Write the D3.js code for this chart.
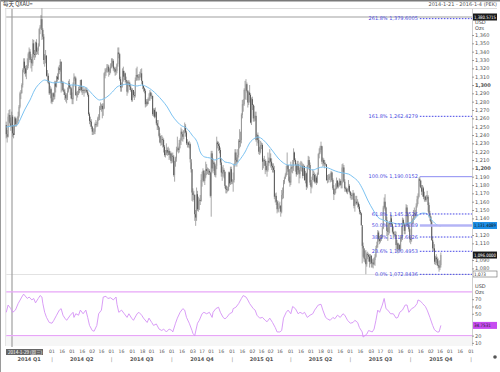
<!DOCTYPE html>
<html>
<head>
<meta charset="utf-8">
<script src="https://cdn.jsdelivr.net/npm/d3@7"></script>
<style>
body { margin: 0; background: #fff; }
text { font-family: "DejaVu Sans", sans-serif; }
</style>
</head>
<body>
<svg id="chart" width="500" height="372"></svg>
<script>
// daily bars, one per weekday from the first day
var firstDay = "2014-01-21", lastDay = "2016-01-04";
var firstOpen = 1252;
var closes = [
  // 2014 Jan
  1241,1238,1262,1264,1254,1251,1262,1242,1240,
  // Feb
  1260,1253,1257,1257,1263,1274,1290,1290,1300,1318,1328,1320,1314,1320,1323,1337,1340,1330,1331,1326,
  // Mar
  1350,1337,1336,1351,1340,1341,1347,1367,1370,1379,1366,1358,1330,1331,1335,1311,1311,1303,1290,1295,1284,
  // Apr
  1280,1290,1286,1303,1298,1310,1307,1320,1318,1328,1302,1303,1294,1292,1288,1284,1285,1293,1302,1297,1296,1284,
  // May
  1283,1300,1309,1308,1288,1288,1290,1295,1294,1306,1294,1293,1294,1293,1294,1294,1292,1288,1265,1257,1256,1250,
  // Jun
  1244,1244,1244,1253,1252,1253,1260,1261,1273,1274,1275,1271,1272,1314,1316,1318,1321,1322,1316,1316,1322,
  // Jul
  1326,1329,1320,1319,1316,1317,1325,1339,1337,1307,1297,1300,1317,1310,1314,1306,1304,1292,1303,1302,1298,1294,1282,
  // Aug
  1294,1288,1287,1306,1312,1310,1309,1309,1313,1314,1305,1299,1296,1293,1277,1280,1277,1283,1283,1291,1287,
  // Sep
  1287,1265,1270,1262,1268,1254,1251,1249,1239,1231,1235,1235,1234,1226,1216,1218,1222,1219,1221,1216,1218,1209,
  // Oct
  1215,1214,1192,1207,1212,1223,1224,1222,1230,1234,1244,1241,1238,1245,1250,1243,1230,1231,1228,1229,1211,1199,1171,
  // Nov
  1168,1168,1145,1141,1169,1151,1161,1162,1161,1186,1188,1197,1185,1190,1199,1197,1197,1197,1195,1167,
  // Dec
  1218,1200,1207,1205,1192,1203,1231,1229,1227,1222,1207,1195,1194,1198,1196,1179,1175,1174,1174,1195,1182,1199,1184,
  // 2015 Jan
  1184,1186,1204,1219,1210,1208,1216,1233,1232,1234,1264,1277,1277,1294,1294,1301,1293,1279,1291,1288,1255,1283,
  // Feb
  1276,1260,1263,1263,1234,1240,1234,1220,1220,1228,1228,1208,1210,1209,1203,1198,1198,1209,1207,1212,
  // Mar
  1208,1203,1201,1198,1166,1167,1160,1151,1152,1152,1155,1148,1168,1170,1183,1188,1192,1196,1204,1199,1185,1183,
  // Apr
  1201,1200,1202,1219,1210,1204,1193,1205,1198,1193,1200,1203,1203,1191,1203,1186,1194,1178,1203,1210,1204,1183,
  // May
  1178,1186,1193,1192,1184,1189,1183,1193,1217,1219,1225,1227,1208,1210,1206,1205,1205,1186,1187,1188,1190,
  // Jun
  1190,1195,1186,1176,1169,1174,1176,1185,1178,1180,1185,1180,1182,1201,1201,1184,1176,1175,1172,1174,1179,1172,
  // Jul
  1168,1167,1168,1170,1155,1159,1160,1158,1158,1154,1148,1146,1132,1107,1104,1092,1091,1085,1097,1096,1094,1088,1095,
  // Aug
  1086,1087,1085,1090,1094,1104,1108,1123,1115,1113,1118,1117,1128,1153,1160,1153,1138,1125,1124,1134,1133,
  // Sep
  1140,1133,1124,1121,1121,1120,1108,1110,1103,1108,1103,1118,1117,1138,1133,1125,1131,1153,1145,1132,1127,1115,
  // Oct
  1114,1137,1137,1146,1145,1143,1155,1163,1166,1187,1185,1177,1172,1176,1166,1166,1162,1164,1166,1156,1146,1142,
  // Nov
  1136,1114,1104,1104,1088,1093,1091,1084,1083,1081,1084,1096
];
var highs = [
  1256,1246,1266,1270,1271,1261,1268,1264,1252,
  1262,1262,1260,1262,1268,1276,1292,1294,1302,1320,1332,1332,1323,1324,1332,1339,1345,1343,1337,1334,
  1355,1354,1342,1352,1355,1345,1350,1368,1372,1384,1392,1368,1361,1337,1342,1336,1318,1314,1305,1299,1297,
  1290,1291,1291,1305,1305,1311,1314,1322,1324,1331,1328,1305,1305,1296,1295,1290,1290,1297,1305,1307,1300,1298,
  1291,1303,1314,1311,1310,1292,1293,1298,1299,1306,1307,1298,1298,1295,1297,1296,1297,1294,1290,1267,1262,1259,
  1251,1248,1248,1255,1258,1256,1262,1265,1275,1279,1277,1278,1278,1315,1320,1320,1325,1325,1324,1320,1326,
  1332,1332,1331,1322,1321,1322,1326,1345,1345,1338,1310,1303,1320,1322,1317,1315,1310,1306,1305,1306,1304,1301,1296,
  1296,1294,1292,1309,1320,1322,1313,1313,1316,1319,1320,1303,1300,1297,1295,1283,1283,1285,1290,1294,1292,
  1290,1287,1272,1272,1273,1267,1258,1258,1250,1242,1239,1240,1238,1236,1228,1222,1230,1225,1226,1224,1221,1220,
  1218,1219,1216,1209,1214,1226,1238,1226,1234,1236,1249,1247,1241,1246,1255,1253,1245,1235,1232,1233,1231,1207,1199,
  1176,1173,1169,1150,1177,1173,1166,1164,1168,1193,1196,1200,1198,1194,1208,1205,1201,1200,1199,1196,
  1221,1221,1212,1209,1207,1203,1238,1233,1232,1230,1225,1212,1202,1204,1200,1196,1180,1179,1178,1196,1196,1202,1202,
  1187,1195,1206,1223,1223,1213,1223,1235,1247,1244,1266,1282,1283,1296,1305,1307,1303,1294,1292,1300,1290,1285,
  1286,1277,1275,1268,1268,1241,1243,1238,1226,1233,1231,1230,1212,1215,1211,1209,1206,1219,1213,1223,
  1218,1212,1206,1206,1203,1170,1171,1162,1161,1158,1160,1156,1174,1177,1186,1190,1194,1203,1219,1204,1199,1190,
  1208,1204,1210,1224,1220,1212,1206,1209,1209,1201,1207,1209,1208,1206,1205,1203,1197,1195,1204,1215,1214,1207,
  1186,1190,1199,1197,1195,1193,1191,1195,1218,1224,1227,1232,1226,1213,1212,1210,1207,1204,1192,1193,1193,
  1194,1197,1196,1188,1180,1175,1182,1189,1186,1183,1188,1187,1185,1205,1206,1204,1187,1178,1177,1176,1186,1181,
  1173,1171,1170,1174,1171,1163,1167,1167,1163,1160,1157,1150,1147,1130,1111,1104,1101,1102,1099,1100,1098,1097,1097,
  1096,1091,1092,1093,1097,1107,1112,1126,1125,1119,1120,1121,1130,1155,1165,1169,1154,1142,1129,1135,1137,
  1146,1143,1135,1130,1124,1125,1124,1114,1111,1110,1109,1120,1130,1141,1140,1135,1134,1157,1156,1147,1135,1129,
  1118,1143,1140,1150,1153,1150,1158,1167,1170,1189,1190,1186,1180,1180,1178,1172,1167,1168,1173,1168,1159,1149,
  1143,1138,1118,1112,1109,1095,1097,1094,1092,1089,1090,1099
];
var lows = [
  1236,1231,1237,1256,1250,1245,1249,1238,1236,
  1240,1250,1250,1252,1254,1261,1272,1283,1290,1297,1315,1313,1310,1307,1318,1320,1332,1327,1320,1316,
  1323,1333,1330,1333,1336,1337,1336,1346,1361,1368,1354,1355,1325,1322,1326,1310,1303,1301,1288,1290,1278,
  1277,1280,1282,1283,1291,1297,1304,1306,1313,1316,1291,1293,1292,1288,1282,1280,1278,1282,1291,1295,1288,1283,
  1277,1277,1298,1305,1287,1281,1285,1288,1290,1293,1291,1288,1290,1286,1290,1291,1290,1286,1263,1253,1250,1247,
  1240,1240,1241,1241,1249,1250,1250,1257,1258,1270,1268,1260,1263,1271,1308,1311,1315,1315,1310,1312,1314,
  1320,1322,1317,1315,1311,1312,1314,1322,1332,1305,1292,1292,1297,1304,1306,1303,1300,1287,1290,1299,1294,1292,1280,
  1280,1285,1282,1285,1305,1305,1306,1305,1306,1309,1301,1295,1292,1290,1273,1274,1275,1277,1281,1281,1285,
  1283,1263,1262,1260,1261,1252,1246,1246,1237,1230,1227,1228,1225,1219,1214,1213,1216,1215,1216,1210,1212,1206,
  1206,1207,1190,1184,1202,1208,1220,1218,1219,1224,1228,1233,1232,1235,1242,1238,1228,1225,1225,1224,1207,1195,1161,
  1160,1162,1137,1131,1137,1149,1148,1150,1156,1160,1178,1184,1183,1180,1188,1192,1193,1192,1192,1165,
  1142,1196,1194,1197,1190,1189,1199,1224,1221,1218,1204,1190,1185,1190,1188,1176,1170,1170,1172,1173,1178,1180,1181,
  1181,1172,1183,1202,1206,1202,1207,1213,1224,1226,1230,1260,1268,1275,1283,1282,1291,1273,1276,1279,1254,1252,
  1270,1256,1256,1257,1232,1227,1230,1217,1216,1218,1223,1198,1200,1203,1193,1196,1190,1196,1203,1206,
  1201,1198,1195,1195,1163,1159,1156,1146,1148,1147,1152,1142,1146,1163,1164,1181,1187,1190,1192,1196,1183,1178,
  1180,1195,1194,1197,1208,1196,1190,1192,1195,1182,1188,1197,1196,1188,1191,1185,1182,1174,1176,1200,1198,1180,
  1170,1176,1186,1184,1182,1182,1180,1182,1192,1212,1217,1222,1205,1202,1203,1200,1203,1185,1182,1183,1186,
  1183,1184,1184,1174,1162,1168,1170,1175,1176,1176,1178,1179,1176,1176,1196,1183,1172,1172,1170,1169,1172,1170,
  1164,1162,1163,1162,1152,1148,1157,1156,1153,1151,1145,1144,1131,1086,1094,1088,1087,1073,1082,1091,1088,1081,1085,
  1081,1081,1080,1084,1083,1093,1104,1105,1112,1109,1111,1113,1116,1127,1151,1149,1136,1119,1113,1120,1122,
  1131,1131,1122,1116,1118,1116,1103,1100,1098,1102,1100,1101,1112,1114,1131,1121,1121,1131,1142,1130,1124,1111,
  1109,1112,1133,1134,1138,1140,1142,1153,1157,1165,1178,1176,1168,1166,1163,1160,1160,1160,1163,1148,1141,1137,
  1131,1113,1100,1101,1085,1084,1086,1083,1080,1076,1078,1081
];

// moving average, read at bar positions
var maBar = [0,6,12,15,20,26,31,37,42,48,53,59,64,70,75,81,86,92,97,102,106,110,116,121,127,132,137,143,148,154,
  159,165,170,176,181,187,192,195,199,203,209,212,217,223,228,234,239,245,250,255,261,266,272,275,281,286,292,297,303,
  308,313,319,324,330,335,341,346,352,357,363,368,374,379,385,390,395,401,406,412,417,423,428,434,439,443,447,452,456,
  460,465,471,475];
var maVal = [1249.6,1250.8,1252,1258,1270,1282,1294,1302.4,1306,1303.6,1302.4,1303.6,1302.4,1300,1300,1298.8,1297.6,
  1291.6,1285.6,1282,1283.2,1285.6,1291.6,1297.6,1300,1301.2,1300,1298.8,1300,1297.6,1294,1288,1282,1273.6,1264,1255.6,
  1250.8,1249.6,1246,1240,1230.4,1219.6,1213.6,1212.4,1210,1212.4,1207.6,1206.4,1204,1210,1219.6,1230.4,1236.4,1237.6,
  1234,1228,1219.6,1212.4,1206.4,1204,1204,1204,1201.6,1200.4,1198,1200.4,1201.6,1200.4,1198,1195.6,1194.4,1193.2,
  1189.6,1183.6,1174,1162,1150,1141.6,1138,1135.6,1134.4,1133.2,1133.2,1134.4,1135.6,1140.4,1145.2,1146.4,1145.2,1138,
  1132,1130.8];

// RSI, read at bar positions
var rsiBar = [0,2,5,7,10,13,17,19,23,25,28,30,32,35,37,39,40,42,44,47,50,52,55,58,60,62,64,66,70,73,74,76,79,81,84,87,
  89,91,94,96,99,101,104,106,109,111,114,117,120,121,123,126,129,132,134,137,139,143,145,148,150,154,156,159,161,164,
  167,170,172,175,178,181,182,185,187,190,193,195,197,200,203,204,206,209,211,214,216,219,222,225,226,229,232,234,237,
  239,241,244,247,248,251,254,257,259,262,264,266,270,272,274,277,280,283,285,288,291,294,296,299,301,303,306,308,311,
  313,316,319,321,324,326,329,332,335,337,341,344,346,349,351,354,357,359,362,365,368,370,373,376,379,381,384,386,389,
  390,392,394,396,400,402,404,406,408,411,413,415,417,420,423,426,428,430,433,436,438,440,443,446,449,450,453,455,458,
  460,463,466,468,471,473,475];
var rsiVal = [52,62,57,52,55,64,73,77,71,73,69,71,65,71,75,73,64,52,45,38,37,41,48,55,57,48,44,41,48,52,45,50,48,55,50,
  55,45,34,27,26,34,50,55,73,74,71,72,69,73,63,52,55,50,45,50,44,41,50,52,48,44,38,44,38,34,36,29,27,29,25,29,27,25,37,
  44,52,57,55,45,37,27,23,20,37,41,50,52,50,52,45,52,57,59,52,45,43,45,50,52,57,59,64,71,75,73,69,64,57,55,48,44,45,41,
  39,44,38,31,25,25,27,44,52,55,50,60,57,50,52,50,52,45,48,50,55,62,63,55,45,43,41,45,43,48,45,50,48,41,37,38,41,38,31,
  25,18,20,22,27,25,29,41,55,52,62,71,57,55,50,50,44,45,52,55,62,62,52,57,59,64,69,67,64,60,55,45,34,28,25,25,34];

var fibPct = ["261.8%", "161.8%", "100.0%", "61.8%", "50.0%", "38.2%", "23.6%", "0.0%"];
var fibVal = [1379.6005, 1262.4279, 1190.0152, 1145.2526, 1131.4089, 1117.6026, 1100.4953, 1072.8436];
var fibFrom = "2015-10-15";

var priceTicks = [1080,1090,1100,1110,1120,1130,1140,1150,1160,1170,1180,1190,1200,1210,1220,1230,1240,1250,
  1260,1270,1280,1290,1300,1310,1320,1330,1340,1350,1360];
var boldTicks = [1100, 1200, 1300];
var rsiTicks = [10, 20, 30, 40, 50, 60, 70];
var rsiBands = [80, 20];

var cursorPrice = "1,380.5715";
var cursorDate = "2014-1-29 (周三)";
var maLast = "1,131.4089";
var lastClose = "1,096.0000";
var lowLabel = "1,073";
var rsiLast = "34.7531";

var svg = d3.select("#chart");
var parse = d3.timeParse("%Y-%m-%d");
var days = d3.timeDay.range(parse(firstDay), d3.timeDay.offset(parse(lastDay), 1))
    .filter(function(d) { return d.getDay() % 6 != 0; });
var dayNums = days.map(Number);

var left = 6.25, right = 472;
var x = d3.scaleLinear().domain([0, days.length - 1]).range([left, right]);
var y = d3.scaleLinear().domain([1100, 1300]).range([251.7, 85]);
var yr = d3.scaleLinear().domain([20, 70]).range([335.6, 299.2]);

var bars = closes.map(function(c, i) {
  return {i: i, o: i ? closes[i - 1] : firstOpen, h: highs[i], l: lows[i], c: c};
});

// frame
svg.append("rect").attr("x", 0).attr("y", 0).attr("width", 500).attr("height", 372).attr("fill", "#fff");
svg.append("rect").attr("x", 0).attr("y", 0).attr("width", 500).attr("height", 1.5).attr("fill", "#7a7a7a");
svg.append("line").attr("x1", 0.5).attr("x2", 0.5).attr("y1", 0).attr("y2", 372).attr("stroke", "#9a9a9a");
svg.append("line").attr("x1", 5).attr("x2", 497).attr("y1", 8.5).attr("y2", 8.5).attr("stroke", "#dcdcdc");
svg.append("line").attr("x1", left - 0.5).attr("x2", left - 0.5).attr("y1", 8.5).attr("y2", 346).attr("stroke", "#dcdcdc");
svg.append("line").attr("x1", left).attr("x2", right).attr("y1", 274.5).attr("y2", 274.5).attr("stroke", "#e2e2e2");
svg.append("rect").attr("x", left).attr("y", 337).attr("width", right - left).attr("height", 9).attr("fill", "#f6f6f6");

svg.append("text").attr("x", 3).attr("y", 6.3)
    .style("font-family", "'Noto Sans CJK SC'").style("font-size", "5.5px").attr("fill", "#333")
    .text("每天 QXAU=");
svg.append("text").attr("x", 497).attr("y", 6.3).attr("text-anchor", "end")
    .style("font-size", "5px").attr("fill", "#555")
    .text("2014-1-21 - 2016-1-4 (PEK)");

// crosshair
svg.append("line").attr("x1", 12).attr("x2", 12).attr("y1", 9).attr("y2", 347).attr("stroke", "#a0a0a0").attr("stroke-width", 1.2);
svg.append("line").attr("x1", left).attr("x2", right).attr("y1", 17).attr("y2", 17).attr("stroke", "#a0a0a0").attr("stroke-width", 1.2);

// candles
var candles = svg.append("g");
candles.selectAll("line").data(bars).join("line")
    .attr("x1", function(d) { return x(d.i); })
    .attr("x2", function(d) { return x(d.i); })
    .attr("y1", function(d) { return y(d.h); })
    .attr("y2", function(d) { return y(d.l); })
    .attr("stroke", "#6e6e6e").attr("stroke-width", 0.6);
candles.selectAll("rect").data(bars).join("rect")
    .attr("x", function(d) { return x(d.i) - 0.45; })
    .attr("width", 0.9)
    .attr("y", function(d) { return y(Math.max(d.o, d.c)); })
    .attr("height", function(d) { return Math.max(0.6, Math.abs(y(d.o) - y(d.c))); })
    .attr("fill", function(d) { return d.c >= d.o ? "#969696" : "#505050"; });

// moving average
svg.append("path")
    .datum(maBar.map(function(b, i) { return [b, maVal[i]]; }))
    .attr("fill", "none").attr("stroke", "#7cc3f2").attr("stroke-width", 1)
    .attr("d", d3.line().curve(d3.curveMonotoneX)
      .x(function(d) { return x(d[0]); })
      .y(function(d) { return y(d[1]); }));

// fibonacci
var fibX = x(dayNums.indexOf(+parse(fibFrom)));
var fib = svg.append("g");
fibVal.forEach(function(v, i) {
  var solid = fibPct[i] == "100.0%" || fibPct[i] == "50.0%";
  fib.append("line")
      .attr("x1", fibX).attr("x2", right)
      .attr("y1", y(v)).attr("y2", y(v))
      .attr("stroke", fibPct[i] == "50.0%" ? "#b4b4f6" : (solid ? "#8c8cf2" : "#4646e6"))
      .attr("stroke-width", fibPct[i] == "50.0%" ? 2.6 : 1)
      .attr("stroke-dasharray", solid ? null : "1.6,1.4");
  fib.append("text")
      .attr("x", fibX - 2).attr("y", y(v) + 1.8)
      .attr("text-anchor", "end")
      .style("font-size", "5px").attr("fill", "#4a4ae0")
      .text(fibPct[i] + "  " + d3.format(",.4f")(v));
});

// value tags on the right axis
var tagYs = [];
function tag(yy, txt, bg, fg, stroke, h) {
  h = h || 7;
  tagYs.push(yy);
  svg.append("rect").attr("x", 473).attr("y", yy - h / 2).attr("width", 24).attr("height", h)
      .attr("fill", bg).attr("stroke", stroke || "none").attr("stroke-width", 0.6);
  svg.append("text").attr("x", 474).attr("y", yy + 1.7).style("font-size", "4.6px").attr("fill", fg)
      .attr("textLength", Math.min(22, txt.length * 2.4)).attr("lengthAdjust", "spacingAndGlyphs").text(txt);
}
function freeOfTags(py) {
  return tagYs.every(function(t) { return Math.abs(t - py) > 5; });
}

// price axis
tag(17, cursorPrice, "#1a1a1a", "#fff");
tag(y(1131.4089), maLast, "#1e8fe6", "#111");
tag(y(closes[closes.length - 1]), lastClose, "#1a1a1a", "#fff");
tag(274, lowLabel, "#fff", "#333", "#666", 6);
var axisG = svg.append("g").attr("transform", "translate(" + right + ",0)")
    .call(d3.axisRight(y).tickValues(priceTicks.filter(function(v) { return freeOfTags(y(v)); }))
      .tickSize(2).tickPadding(1).tickFormat(d3.format(",")));
axisG.select(".domain").attr("stroke", "#cfcfcf").attr("d", "M0.5,9V346");
axisG.selectAll(".tick line").attr("stroke", "#999");
axisG.selectAll(".tick text").style("font-size", "5px").attr("fill", "#555")
    .style("font-weight", function(d) { return boldTicks.indexOf(d) >= 0 ? "bold" : null; });

svg.append("text").attr("x", 475).attr("y", 24).style("font-size", "5px").attr("fill", "#444").text("USD");
svg.append("text").attr("x", 475).attr("y", 30).style("font-size", "5px").attr("fill", "#444").text("Ozs");

// RSI panel
rsiBands.forEach(function(b) {
  svg.append("line").attr("x1", left).attr("x2", right).attr("y1", yr(b)).attr("y2", yr(b))
      .attr("stroke", "#e7a6f7").attr("stroke-width", 1.4);
});
svg.append("path")
    .datum(rsiBar.map(function(b, i) { return [b, rsiVal[i]]; }))
    .attr("fill", "none").attr("stroke", "#d592f5").attr("stroke-width", 0.9)
    .attr("d", d3.line()
      .x(function(d) { return x(d[0]); })
      .y(function(d) { return yr(d[1]); }));

tag(yr(rsiVal[rsiVal.length - 1]), rsiLast, "#c64cf0", "#222");
var rsiAxis = svg.append("g").attr("transform", "translate(" + right + ",0)")
    .call(d3.axisRight(yr).tickValues(rsiTicks.filter(function(v) { return freeOfTags(yr(v)); }))
      .tickSize(2).tickPadding(1));
rsiAxis.select(".domain").remove();
rsiAxis.selectAll(".tick line").attr("stroke", "#999");
rsiAxis.selectAll(".tick text").style("font-size", "5px").attr("fill", "#555");
svg.append("text").attr("x", 475).attr("y", 288).style("font-size", "5px").attr("fill", "#444").text("USD");
svg.append("text").attr("x", 475).attr("y", 294).style("font-size", "5px").attr("fill", "#444").text("Ozs");

// date axis
var fmtDay = d3.timeFormat("%d");
var boxRight = 43;
var dayTicks = [];
d3.timeMonth.range(d3.timeMonth.floor(days[0]), days[days.length - 1]).forEach(function(m) {
  [1, 16].forEach(function(dd) {
    var i = d3.bisectLeft(dayNums, +new Date(m.getFullYear(), m.getMonth(), dd));
    if (i < days.length && days[i].getMonth() == m.getMonth() && days[i].getDate() - dd < 3 && x(i) > boxRight + 3) dayTicks.push(i);
  });
});
svg.append("g").selectAll("text").data(dayTicks).join("text")
    .attr("x", function(i) { return x(i); }).attr("y", 353)
    .attr("text-anchor", "middle").style("font-size", "4.6px").attr("fill", "#555")
    .text(function(i) { return fmtDay(days[i]); });

var quarterStarts = d3.timeMonth.every(3).range(days[0], d3.timeDay.offset(days[days.length - 1], 1));
var qIdx = quarterStarts.map(function(q) { return d3.bisectLeft(dayNums, +q); });
svg.append("g").selectAll("text").data(qIdx).join("text")
    .attr("x", function(i) { return x(i); }).attr("y", 361)
    .attr("text-anchor", "middle").style("font-size", "5px").attr("fill", "#777").text("|");
var qEdges = [0].concat(qIdx);
svg.append("g").selectAll("text").data(qEdges.slice(0, -1)).join("text")
    .attr("x", function(i, k) { return (x(i) + x(Math.min(qEdges[k + 1], days.length - 1))) / 2; }).attr("y", 361)
    .attr("text-anchor", "middle").style("font-size", "5px").style("font-weight", "bold").attr("fill", "#555")
    .text(function(i) { return days[i].getFullYear() + " Q" + (Math.floor(days[i].getMonth() / 3) + 1); });

svg.append("rect").attr("x", 6).attr("y", 349).attr("width", boxRight - 6).attr("height", 6).attr("fill", "#666");
svg.append("text").attr("x", 8).attr("y", 353.6).style("font-family", "'Noto Sans CJK SC'")
    .style("font-size", "4.6px").attr("fill", "#fff").text(cursorDate);
svg.append("circle").attr("cx", 495).attr("cy", 357).attr("r", 1.8).attr("fill", "#555");
</script>
</body>
</html>
